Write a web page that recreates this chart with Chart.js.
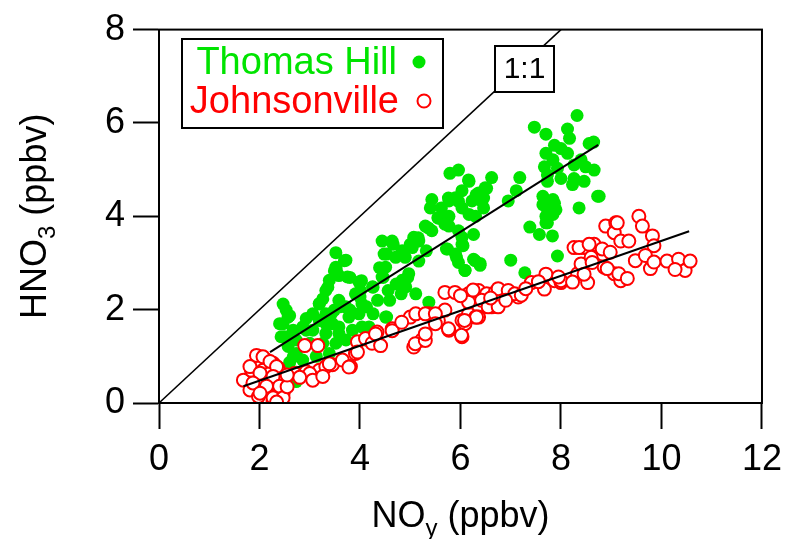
<!DOCTYPE html>
<html>
<head>
  <title>HNO3 vs NOy</title>
  <style>
    body { margin: 0; background: #fff; }
    #wrap { width: 791px; height: 539px; }
  </style>
</head>
<body>
  <div id="wrap"><canvas id="chart" width="791" height="539"></canvas></div>

  <script src="https://cdn.jsdelivr.net/npm/chart.js"></script>
  <script>
    // Thomas Hill (filled green)
    const thX = [8.32,7.47,7.70,8.13,8.17,8.56,8.65,7.87,8.00,7.70,8.13,8.40,7.84,7.67,7.93,8.26,8.49,8.66,7.73,8.00,
      8.26,8.46,7.73,8.23,8.73,7.64,7.84,8.36,7.90,7.70,7.73,7.38,7.57,7.83,7.93,7.00,7.28,7.18,7.11,6.95,
      6.62,6.49,6.36,6.17,5.96,5.79,6.03,5.90,5.77,6.23,6.46,5.43,5.40,5.62,6.03,6.17,6.30,5.77,5.55,5.30,
      5.43,5.77,5.96,6.26,6.03,5.74,6.03,5.90,5.96,6.09,6.26,6.39,5.17,5.07,5.04,5.17,4.84,4.64,4.44,4.48,
      4.71,4.97,4.84,4.91,5.11,5.37,4.51,4.44,4.25,4.35,4.51,3.52,3.72,3.52,3.58,3.75,3.98,4.01,3.91,3.39,
      3.32,3.26,3.19,3.58,3.72,3.49,3.32,3.06,2.93,3.19,3.45,3.78,3.98,4.04,3.85,3.58,3.32,3.06,2.86,2.67,
      2.57,2.47,2.53,2.47,2.43,2.57,2.73,2.60,2.73,2.70,3.00,3.26,3.52,3.39,3.13,2.86,3.72,4.18,4.11,6.52,
      6.42,7.64,7.87,7.74,7.84,7.70,8.76,6.39,3.49,3.36,6.16,6.31,6.46,5.76,5.96,5.56,5.69,5.36,5.16,5.00,
      4.90,4.66,4.53,4.39,4.46,4.56,4.59,4.72,4.82,4.95,5.32,5.72,5.92,6.05,6.29,6.09,3.69,3.53,3.80,4.03,
      4.26,4.00,4.13,4.26,4.53,3.80,3.60,3.43,2.60,2.40,2.50,2.73,2.93,3.19,3.32,3.58,3.78,4.04,2.67,2.73];
    const thY = [6.16,5.91,5.76,5.87,5.67,5.56,5.59,5.52,5.45,5.35,5.35,5.21,5.21,5.06,5.03,5.10,5.06,4.99,4.89,4.81,
      4.81,4.75,4.75,4.68,4.43,4.43,4.36,4.18,4.14,4.00,3.86,3.77,3.61,3.58,3.15,3.06,2.79,4.83,4.55,4.33,
      4.83,4.61,4.50,4.75,4.99,4.92,4.55,4.40,4.33,4.33,4.18,4.36,4.18,4.18,4.18,4.04,4.00,4.00,3.97,3.79,
      3.69,3.79,3.69,3.61,3.55,3.30,3.40,3.19,3.01,2.84,3.08,2.99,3.47,3.55,3.33,3.04,3.26,3.47,3.47,3.19,
      3.12,2.77,2.63,2.49,2.34,2.16,2.91,2.70,2.49,2.20,1.84,3.22,3.06,2.91,2.73,2.70,2.59,2.41,2.34,2.63,
      2.41,2.23,2.13,2.20,2.06,1.99,1.91,1.91,1.81,1.77,1.70,1.84,1.91,1.63,1.56,1.49,1.49,1.56,1.63,1.56,
      1.84,2.12,1.99,1.70,1.42,1.21,1.06,0.87,0.66,0.52,1.28,1.28,1.28,1.06,1.00,0.92,1.35,1.63,1.35,4.60,
      4.33,4.25,4.28,4.11,4.04,3.86,4.43,2.95,2.83,2.48,4.78,4.46,4.39,4.39,4.32,3.96,3.83,3.75,3.54,3.40,
      3.12,3.40,3.19,2.90,2.69,2.41,2.20,2.55,2.34,2.69,3.26,3.30,3.12,3.37,3.05,2.84,3.05,2.84,2.69,2.62,
      2.48,2.27,2.06,1.91,1.84,1.99,2.06,1.91,1.87,1.70,1.42,1.35,1.56,2.12,1.70,1.63,1.99,2.12,0.99,0.46];

    // Johnsonville (open red)
    const jvX = [1.68,1.84,2.01,2.14,2.27,2.37,1.94,2.07,2.21,2.40,1.88,2.04,1.81,1.98,2.14,2.27,2.43,2.47,2.37,2.07,
      2.27,2.43,1.94,2.07,2.21,2.34,1.81,2.01,2.27,1.87,2.14,2.40,2.01,2.27,2.47,2.34,2.90,3.16,2.70,2.93,
      3.06,3.19,3.32,3.45,3.65,3.81,3.91,3.95,4.11,4.24,4.34,4.41,4.64,3.00,3.39,3.78,3.95,4.31,5.00,5.11,
      5.07,5.23,5.37,5.56,5.69,5.77,6.03,6.03,6.16,6.30,5.69,5.89,6.16,6.36,6.52,6.69,6.42,6.62,6.82,7.02,
      7.15,7.41,7.67,7.87,8.00,8.33,8.53,8.40,8.26,8.46,8.66,8.83,8.89,9.09,9.06,9.19,8.86,9.06,9.19,8.60,
      5.30,5.10,5.30,5.50,5.76,6.09,6.02,6.16,6.36,6.55,6.75,6.75,6.95,7.08,7.21,7.70,8.00,9.12,9.55,9.62,
      9.82,9.85,9.35,8.36,8.56,8.82,8.98,8.62,8.46,8.92,9.15,9.48,9.68,9.78,9.85,10.11,10.34,10.47,10.57,10.27,
      9.32,8.23,6.32,6.08,4.64,4.83,5.30,5.50,3.06,3.26,2.80,2.55,2.55,6.00,6.25,6.60,6.90,7.55,7.30,7.95];
    const jvY = [0.49,0.70,0.99,0.92,0.85,0.75,0.78,0.70,0.64,0.57,0.42,0.35,0.28,0.14,0.28,0.06,0.00,0.21,0.42,0.49,
      0.49,0.64,1.02,0.99,0.89,0.78,0.78,0.64,0.57,0.43,0.36,0.36,0.21,0.11,0.11,0.02,1.23,1.23,0.63,0.67,
      0.60,0.70,0.78,0.82,0.92,0.78,1.06,1.31,1.38,1.28,1.52,1.23,1.59,0.63,0.84,0.77,1.09,1.48,1.84,1.91,
      1.20,1.35,1.91,1.77,1.99,1.56,1.42,1.77,1.91,1.84,2.37,2.37,2.34,2.41,2.34,2.37,2.20,2.06,2.27,2.34,
      2.27,2.58,2.44,2.62,2.58,2.77,2.58,2.98,3.33,3.33,3.40,3.19,3.79,3.86,3.65,3.47,2.91,2.77,2.62,3.12,
      1.91,1.27,1.34,1.91,1.59,1.70,1.45,2.16,1.84,2.06,2.06,2.45,2.41,2.34,2.31,2.76,2.62,3.86,4.00,3.79,
      3.58,3.37,3.47,3.33,3.40,3.30,3.23,3.01,2.76,2.88,2.77,3.05,3.16,2.88,3.02,3.04,3.08,2.84,3.04,2.86,
      2.67,2.59,1.84,1.77,1.55,1.73,1.48,1.70,0.49,0.57,0.55,0.35,0.60,2.30,2.42,2.25,2.20,2.60,2.45,2.70];

    // fit lines and 1:1 reference
    const thFitX = [2.21, 8.74], thFitY = [1.09, 5.53];
    const jvFitX = [1.68, 10.55], jvFitY = [0.36, 3.68];
    const oneX = [0, 8], oneY = [0, 8];

    const xTicks = [0, 2, 4, 6, 8, 10, 12];
    const yTicks = [0, 2, 4, 6, 8];

    const GREEN = '#00e400';
    const RED = '#ff0000';
    const FONT = "'Liberation Sans', Arial, Helvetica, sans-serif";

    function pts(xs, ys) { return xs.map((x, i) => ({ x: x, y: ys[i] })); }

    function drawParts(ctx, parts, cx, by) {
      let total = 0;
      parts.forEach(p => {
        ctx.font = (p.sub ? 24 : 36) + 'px ' + FONT;
        p.w = ctx.measureText(p.t).width;
        total += p.w;
      });
      let x = cx - total / 2;
      ctx.textAlign = 'left';
      ctx.textBaseline = 'alphabetic';
      parts.forEach(p => {
        ctx.font = (p.sub ? 24 : 36) + 'px ' + FONT;
        ctx.fillText(p.t, x, by + (p.sub ? 9 : 0));
        x += p.w;
      });
    }

    const decor = {
      id: 'decor',
      afterDatasetsDraw(chart) {
        const ctx = chart.ctx;
        const a = chart.chartArea;
        ctx.save();
        // frame (top, right)
        ctx.strokeStyle = '#000';
        ctx.lineWidth = 2;
        ctx.strokeRect(a.left, a.top, a.right - a.left, a.bottom - a.top);

        // 1:1 label box
        ctx.fillStyle = '#fff';
        ctx.fillRect(495, 46, 59, 46);
        ctx.strokeRect(495, 46, 59, 46);
        ctx.fillStyle = '#000';
        ctx.font = '30px ' + FONT;
        ctx.textAlign = 'center';
        ctx.textBaseline = 'middle';
        ctx.fillText('1:1', 524.5, 70);

        // legend
        ctx.fillStyle = '#fff';
        ctx.fillRect(182, 39, 261, 89);
        ctx.strokeRect(182, 39, 261, 89);
        ctx.font = '38px ' + FONT;
        ctx.textAlign = 'right';
        ctx.textBaseline = 'alphabetic';
        ctx.fillStyle = GREEN;
        ctx.fillText('Thomas Hill', 397, 74);
        ctx.fillStyle = RED;
        ctx.fillText('Johnsonville', 399, 113);
        ctx.beginPath();
        ctx.arc(419, 62, 6.5, 0, Math.PI * 2);
        ctx.fillStyle = GREEN;
        ctx.fill();
        ctx.beginPath();
        ctx.arc(424, 101, 6.5, 0, Math.PI * 2);
        ctx.fillStyle = '#fff';
        ctx.fill();
        ctx.lineWidth = 2;
        ctx.strokeStyle = RED;
        ctx.stroke();

        // axis titles with subscripts
        ctx.fillStyle = '#000';
        const mid = (a.left + a.right) / 2;
        drawParts(ctx, [{ t: 'NO' }, { t: 'y', sub: true }, { t: ' (ppbv)' }], mid, 527);
        ctx.translate(46, (a.top + a.bottom) / 2);
        ctx.rotate(-Math.PI / 2);
        drawParts(ctx, [{ t: 'HNO' }, { t: '3', sub: true }, { t: ' (ppbv)' }], 0, 0);
        ctx.restore();
      }
    };

    const axisGrid = {
      drawOnChartArea: false,
      drawTicks: true,
      tickLength: 26,
      tickWidth: 2,
      tickColor: '#000',
      color: '#000'
    };

    new Chart(document.getElementById('chart'), {
      type: 'scatter',
      data: {
        datasets: [
          {
            type: 'line', data: pts(thFitX, thFitY), borderColor: '#000', borderWidth: 2,
            pointRadius: 0, fill: false, order: 0
          },
          {
            type: 'line', data: pts(jvFitX, jvFitY), borderColor: '#000', borderWidth: 2,
            pointRadius: 0, fill: false, order: 0
          },
          {
            label: 'Johnsonville', data: pts(jvX, jvY), pointRadius: 6.5, borderWidth: 2,
            borderColor: RED, backgroundColor: '#fff', order: 1
          },
          {
            label: 'Thomas Hill', data: pts(thX, thY), pointRadius: 6.5, borderWidth: 0,
            backgroundColor: GREEN, borderColor: GREEN, order: 2
          },
          {
            type: 'line', data: pts(oneX, oneY), borderColor: '#000', borderWidth: 1.5,
            pointRadius: 0, fill: false, order: 3
          }
        ]
      },
      options: {
        responsive: false,
        animation: false,
        layout: { padding: { left: 0, right: 28, top: 27, bottom: 0 } },
        plugins: { legend: { display: false }, tooltip: { enabled: false } },
        scales: {
          x: {
            type: 'linear', min: 0, max: 12,
            afterBuildTicks: s => { s.ticks = xTicks.map(v => ({ value: v })); },
            afterFit: s => { s.height = 136; },
            ticks: { color: '#000', padding: 9, font: { family: FONT, size: 36 } },
            grid: axisGrid,
            border: { display: true, color: '#000', width: 2 }
          },
          y: {
            type: 'linear', min: 0, max: 8,
            afterBuildTicks: s => { s.ticks = yTicks.map(v => ({ value: v })); },
            afterFit: s => { s.width = 159; },
            ticks: { color: '#000', padding: 8, font: { family: FONT, size: 36 } },
            grid: axisGrid,
            border: { display: true, color: '#000', width: 2 }
          }
        }
      },
      plugins: [decor]
    });
  </script>
</body>
</html>
